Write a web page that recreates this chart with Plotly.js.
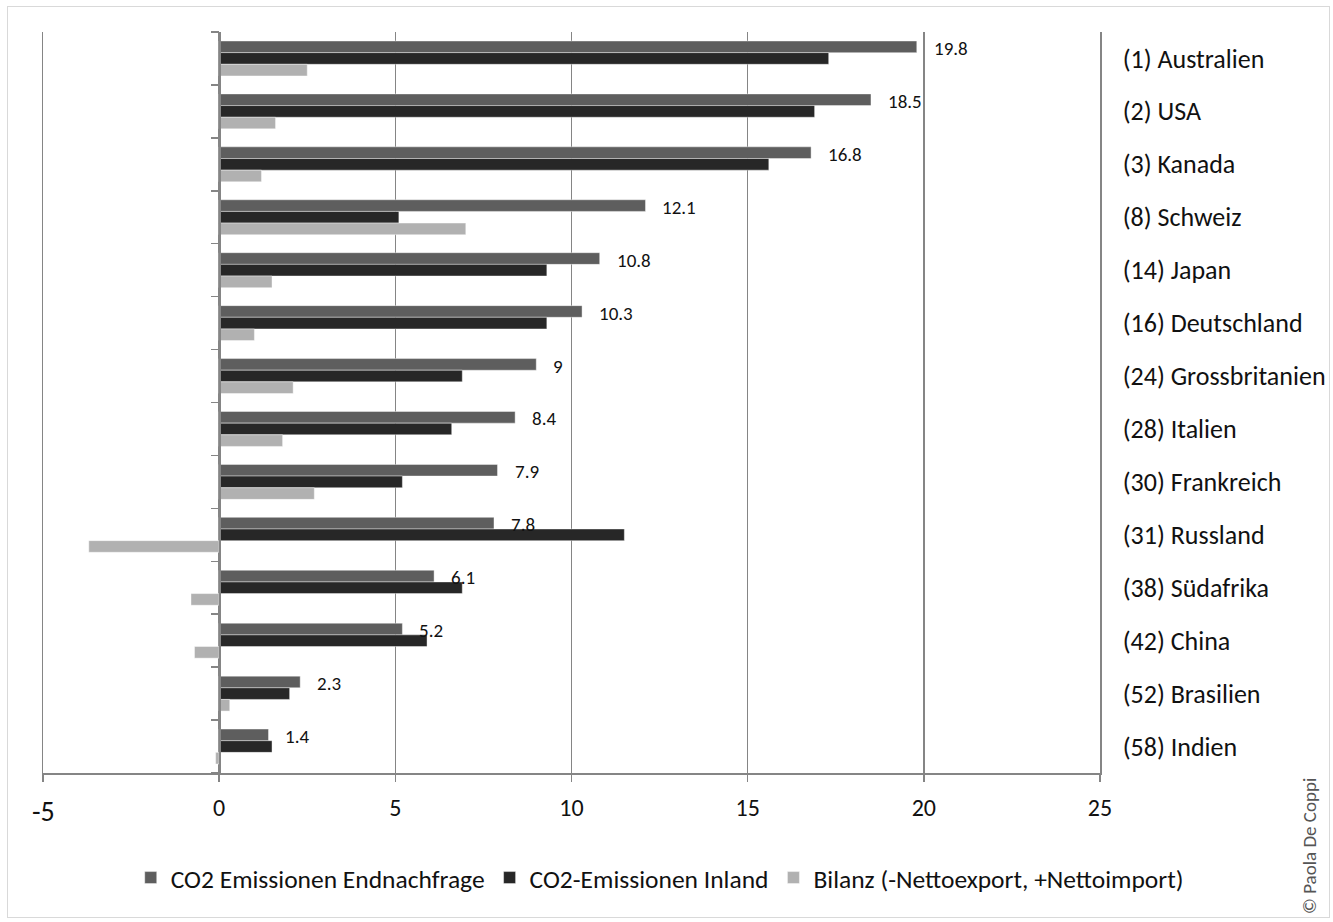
<!DOCTYPE html>
<html>
<head>
<meta charset="utf-8">
<script src="https://cdn.plot.ly/plotly-3.0.1.min.js"></script>
<style>
  html, body { margin: 0; padding: 0; background: #fff; }
  #wrap { position: relative; width: 1333px; height: 922px; }
  #chart { position: absolute; left: 0; top: 0; width: 1333px; height: 922px; }
  #frame { position: absolute; left: 7px; top: 6px; width: 1321px; height: 910px; border: 1px solid #d9d9d9; pointer-events: none; }
</style>
</head>
<body>
<div id="wrap"><div id="chart"></div><div id="frame"></div></div>
<script>
// ---- data ----
const countries = [
  "(1) Australien", "(2) USA", "(3) Kanada", "(8) Schweiz", "(14) Japan",
  "(16) Deutschland", "(24) Grossbritanien", "(28) Italien", "(30) Frankreich",
  "(31) Russland", "(38) Südafrika", "(42) China", "(52) Brasilien", "(58) Indien"
];
const endnachfrage = [19.8, 18.5, 16.8, 12.1, 10.8, 10.3, 9, 8.4, 7.9, 7.8, 6.1, 5.2, 2.3, 1.4];
const inland       = [17.3, 16.9, 15.6, 5.1, 9.3, 9.3, 6.9, 6.6, 5.2, 11.5, 6.9, 5.9, 2.0, 1.5];
const bilanz       = [2.5, 1.6, 1.2, 7.0, 1.5, 1.0, 2.1, 1.8, 2.7, -3.7, -0.8, -0.7, 0.3, -0.1];
const seriesNames  = ["CO2 Emissionen Endnachfrage", "CO2-Emissionen Inland", "Bilanz (-Nettoexport, +Nettoimport)"];
const xTickVals    = [-5, 0, 5, 10, 15, 20, 25];
const xTickText    = ["", "0", "5", "10", "15", "20", "25"];

// ---- styling ----
const FONT = "Carlito, Lato, 'Open Sans', sans-serif";
const GRID = "#858585";
const colors = ["#5e5e5e", "#272727", "#b1b1b1"];

const mk = (vals, i) => ({
  type: "bar", orientation: "h",
  x: vals, y: countries, name: seriesNames[i],
  marker: { color: colors[i], line: { color: "rgba(255,255,255,0.7)", width: 0.6 } },
  hoverinfo: "x+name"
});

const traces = [
  mk(endnachfrage, 0), mk(inland, 1), mk(bilanz, 2),
  // helper trace so the zero-line axis (category boundary ticks) is drawn
  { type: "scatter", mode: "markers", x: [null], y: [null], yaxis: "y2",
    showlegend: false, hoverinfo: "skip" }
];

const boundaries = countries.map((c, i) => i - 0.5).concat([countries.length - 0.5]);

const annotations = endnachfrage.map((v, i) => ({
  x: v, y: countries[i], xref: "x", yref: "y",
  text: String(v), showarrow: false, xanchor: "left", yanchor: "middle",
  xshift: 15, yshift: 10,
  font: { family: FONT, size: 19, color: "#111" }
}));
annotations.push({
  x: -5, y: -0.052, xref: "x", yref: "paper", text: "-5", showarrow: false,
  xanchor: "center", yanchor: "middle", font: { family: FONT, size: 28, color: "#111" }
});
annotations.push({
  x: 1.1987, y: -0.0985, xref: "paper", yref: "paper", text: "© Paola De Coppi",
  textangle: -90, showarrow: false, xanchor: "center", yanchor: "middle",
  font: { family: FONT, size: 19, color: "#555" }
});

const layout = {
  width: 1333, height: 922,
  margin: { l: 43, r: 233, t: 32, b: 149 },
  paper_bgcolor: "#fff", plot_bgcolor: "#fff",
  font: { family: FONT, color: "#111" },
  barmode: "group", bargap: 0.34, bargroupgap: 0,
  showlegend: true,
  legend: {
    orientation: "h", x: 0.083, xanchor: "left", y: -0.1417, yanchor: "middle",
    font: { family: FONT, size: 25.5, color: "#111" }, traceorder: "normal",
    itemclick: false
  },
  xaxis: {
    range: [-5, 25], autorange: false,
    tickmode: "array", tickvals: xTickVals, ticktext: xTickText,
    showgrid: true, gridcolor: GRID, gridwidth: 1.5,
    zeroline: false,
    showline: true, linecolor: GRID, linewidth: 1.5,
    ticks: "outside", ticklen: 7, tickcolor: GRID, tickwidth: 1.5,
    ticklabelstandoff: 6,
    tickfont: { family: FONT, size: 24, color: "#111" }
  },
  yaxis: {
    type: "category", categoryorder: "array", categoryarray: countries,
    range: [countries.length - 0.5, -0.5], autorange: false,
    side: "right", showgrid: false, zeroline: false,
    showline: true, mirror: true, linecolor: GRID, linewidth: 1.5,
    ticks: "", ticklabelstandoff: 16,
    tickfont: { family: FONT, size: 26, color: "#111" }
  },
  yaxis2: {
    overlaying: "y", anchor: "free", position: 1 / 6, side: "left",
    range: [countries.length - 0.5, -0.5], autorange: false,
    tickmode: "array", tickvals: boundaries, showticklabels: false,
    ticks: "outside", ticklen: 8, tickcolor: GRID, tickwidth: 1.5,
    showline: true, linecolor: GRID, linewidth: 1.5,
    showgrid: false, zeroline: false
  },
  annotations: annotations
};

Plotly.newPlot("chart", traces, layout, { displayModeBar: false, staticPlot: true });
</script>
</body>
</html>
